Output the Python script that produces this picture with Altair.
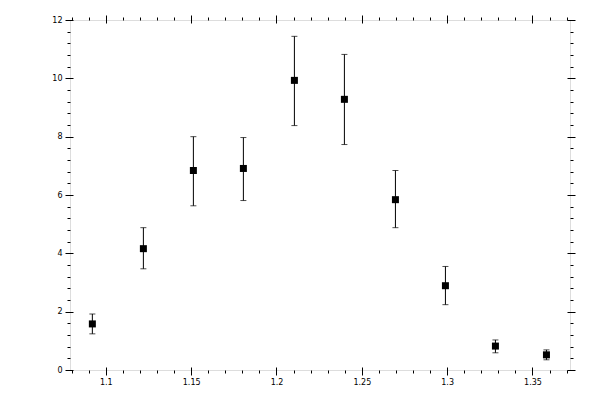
import altair as alt
import pandas as pd

# data
xs = [1.0921, 1.1220, 1.1513, 1.1806, 1.2105, 1.2398, 1.2697, 1.2990, 1.3283, 1.3582]
ys = [1.58, 4.16, 6.84, 6.91, 9.93, 9.28, 5.84, 2.89, 0.82, 0.52]
hi = [1.92, 4.88, 8.00, 7.97, 11.44, 10.82, 6.84, 3.55, 1.03, 0.69]
lo = [1.24, 3.47, 5.63, 5.81, 8.38, 7.73, 4.88, 2.24, 0.59, 0.35]

x_major = [1.1, 1.15, 1.2, 1.25, 1.3, 1.35]
x_minor = [1.08, 1.09, 1.10, 1.11, 1.12, 1.13, 1.14, 1.15, 1.16, 1.17, 1.18, 1.19,
           1.20, 1.21, 1.22, 1.23, 1.24, 1.25, 1.26, 1.27, 1.28, 1.29, 1.30, 1.31,
           1.32, 1.33, 1.34, 1.35, 1.36, 1.37]
y_major = [0, 2, 4, 6, 8, 10, 12]
y_minor = [round(0.4 * i, 1) for i in range(31)]

X_DOMAIN = [1.079, 1.372]
Y_DOMAIN = [0, 12]

df = pd.DataFrame({"x": xs, "y": ys, "lo": lo, "hi": hi})

FONT = "DejaVu Sans"


def ax(orient, values, size, offset, labels, fmt=None):
    kw = dict(orient=orient, values=values, tickSize=size, offset=offset,
              labels=labels, domain=False, grid=False, ticks=True,
              tickColor="black", tickWidth=1, title=None,
              labelFont=FONT, labelFontSize=8, labelColor="black",
              labelPadding=3, labelFlush=False, labelOverlap=False)
    if fmt:
        kw["format"] = fmt
    return alt.Axis(**kw)


def xs_enc(axis):
    return alt.X("x:Q", scale=alt.Scale(domain=X_DOMAIN, nice=False, zero=False), axis=axis)


def ys_enc(field, axis):
    return alt.Y(f"{field}:Q", scale=alt.Scale(domain=Y_DOMAIN, nice=False, zero=False), axis=axis)


base = alt.Chart(df)

rules = base.mark_rule(color="black", strokeWidth=1).encode(
    x=xs_enc(ax("bottom", x_major, 8, -3, True, "~g")),
    y=ys_enc("lo", ax("left", y_major, 8, -3, True, "d")),
    y2="hi:Q",
)

caps_lo = base.mark_tick(color="black", orient="horizontal", size=6, thickness=1).encode(
    x=xs_enc(ax("bottom", x_minor, 3, 0, False)),
    y=ys_enc("lo", ax("left", y_minor, 3, 0, False)),
)

caps_hi = base.mark_tick(color="black", orient="horizontal", size=6, thickness=1).encode(
    x=xs_enc(ax("top", x_major, 8, -3, False)),
    y=ys_enc("hi", ax("right", y_major, 8, -3, False)),
)

points = base.mark_square(color="black", size=49, opacity=1, filled=True).encode(
    x=xs_enc(ax("top", x_minor, 3, 0, False)),
    y=ys_enc("y", ax("right", y_minor, 3, 0, False)),
)

chart = (
    alt.layer(rules, caps_lo, caps_hi, points)
    .resolve_scale(x="independent", y="independent")
    .resolve_axis(x="independent", y="independent")
    .properties(
        width=500,
        height=350,
        autosize=alt.AutoSizeParams(type="none"),
        padding={"left": 62, "top": 12, "right": 14, "bottom": 22},
    )
    .configure_view(stroke="black", strokeWidth=1)
    .configure(background="white")
)

chart.save("out.html", embed_options={"renderer": "svg", "actions": False})
